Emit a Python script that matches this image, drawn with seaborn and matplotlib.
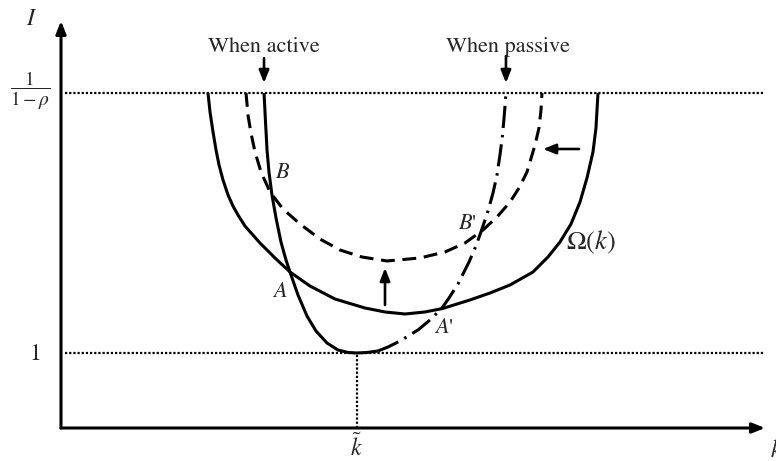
import matplotlib
matplotlib.use("Agg")
import matplotlib.pyplot as plt
import pandas as pd
import seaborn as sns

# ---- curves of the diagram (k on the horizontal axis, I on the vertical) ----
# Omega(k): solid U-shaped locus
omega_k = [1.960, 1.987, 2.027, 2.067, 2.107, 2.160, 2.227, 2.293, 2.360, 2.453,
           2.547, 2.653, 2.853, 3.053, 3.320, 3.653, 4.053, 4.320, 4.587, 4.853,
           5.087, 5.453, 5.720, 5.987, 6.293, 6.493, 6.653, 6.800, 6.920, 7.013,
           7.093, 7.133, 7.160]
omega_i = [4.467, 4.213, 3.947, 3.707, 3.507, 3.307, 3.107, 2.960, 2.840, 2.693,
           2.587, 2.467, 2.267, 2.080, 1.893, 1.720, 1.600, 1.547, 1.520, 1.547,
           1.593, 1.707, 1.800, 1.907, 2.080, 2.280, 2.480, 2.720, 3.013, 3.333,
           3.680, 4.000, 4.467]

# shifted locus (dashed)
shifted_k = [2.467, 2.493, 2.533, 2.587, 2.667, 2.787, 2.960, 3.187, 3.453, 3.720,
             4.013, 4.347, 4.787, 5.120, 5.387, 5.627, 5.813, 5.987, 6.107, 6.213,
             6.320, 6.373, 6.400, 6.413]
shifted_i = [4.467, 4.173, 3.933, 3.680, 3.413, 3.147, 2.920, 2.720, 2.520, 2.373,
             2.280, 2.227, 2.267, 2.347, 2.467, 2.640, 2.813, 3.013, 3.200, 3.413,
             3.773, 4.000, 4.240, 4.467]

# investment schedule when active (solid)
active_k = [2.707, 2.727, 2.747, 2.773, 2.813, 2.867, 2.933, 3.000, 3.053, 3.160,
            3.280, 3.400, 3.547, 3.693, 3.827, 3.940, 4.080, 4.227]
active_i = [4.467, 4.080, 3.707, 3.413, 3.107, 2.800, 2.480, 2.240, 2.080, 1.773,
            1.493, 1.293, 1.133, 1.040, 1.007, 1.000, 1.007, 1.027]

# investment schedule when passive (dash-dot)
passive_k = [4.227, 4.360, 4.520, 4.760, 4.920, 5.080, 5.173, 5.293, 5.440, 5.533,
             5.613, 5.693, 5.760, 5.813, 5.853, 5.887, 5.913, 5.933]
passive_i = [1.027, 1.080, 1.160, 1.307, 1.440, 1.600, 1.733, 1.920, 2.213, 2.427,
             2.653, 2.893, 3.133, 3.373, 3.640, 3.907, 4.200, 4.467]

k_tilde = 3.94
i_floor = 1.0
i_ceiling = 4.467          # level 1/(1-rho)
k_axis_end = 9.387
i_axis_end = 5.427
guide_start = 0.053

# ---- figure ----
sns.set_theme(style="white")
plt.rcParams["font.family"] = ["STIXGeneral", "DejaVu Serif"]
plt.rcParams["mathtext.fontset"] = "stix"
plt.rcParams["lines.scale_dashes"] = False

fig = plt.figure(figsize=(7.76, 4.61), dpi=100)
ax = fig.add_axes([0, 0, 1, 1])
ax.set_xlim(-61 / 75, 715 / 75)
ax.set_ylim(-33 / 75, 428 / 75)
ax.axis("off")

curves = {
    "omega": (omega_k, omega_i, "-"),
    "shifted": (shifted_k, shifted_i, (0, (10, 5.5))),
    "active": (active_k, active_i, "-"),
    "passive": (passive_k, passive_i, (0, (16, 5, 1.8, 5))),
}
for name, (ks, iis, style) in curves.items():
    df = pd.DataFrame({"k": ks, "I": iis})
    sns.lineplot(data=df, x="k", y="I", ax=ax, sort=False, estimator=None,
                 color="black", lw=2.2, linestyle=style,
                 solid_capstyle="butt", dash_capstyle="butt",
                 solid_joinstyle="round")
ax.set_xlabel("")
ax.set_ylabel("")

# dotted guide lines
dot = dict(color="black", lw=1.6, linestyle=(0, (1.6, 1.4)), dash_capstyle="butt")
for level in (i_floor, i_ceiling):
    ax.plot([guide_start, k_axis_end], [level, level], **dot)
ax.plot([k_tilde, k_tilde], [0, i_floor], **dot)

# coordinate axes with arrowheads
axis_arrow = dict(arrowstyle="-|>,head_length=0.75,head_width=0.3", color="black",
                  lw=2.2, shrinkA=0, shrinkB=0, mutation_scale=10)
ax.annotate("", xy=(0, i_axis_end), xytext=(0, 0), arrowprops=axis_arrow)
ax.annotate("", xy=(k_axis_end, 0), xytext=(0, 0), arrowprops=axis_arrow)

# pointer arrows
pointer = dict(arrowstyle="-|>,head_length=0.75,head_width=0.3", color="black",
               lw=1.9, shrinkA=0, shrinkB=0, mutation_scale=10)
ax.annotate("", xy=(2.707, 4.60), xytext=(2.707, 4.93), arrowprops=pointer)
ax.annotate("", xy=(5.933, 4.60), xytext=(5.933, 4.96), arrowprops=pointer)
ax.annotate("", xy=(4.32, 2.133), xytext=(4.32, 1.64), arrowprops=pointer)
ax.annotate("", xy=(6.427, 3.72), xytext=(6.907, 3.72), arrowprops=pointer)

# labels
ax.text(2.707, 5.017, "When active", ha="center", va="baseline", fontsize=16)
ax.text(5.960, 5.017, "When passive", ha="center", va="baseline", fontsize=16)
ax.text(-0.387, 5.373, r"$I$", ha="center", va="baseline", fontsize=17)
ax.text(-0.413, 4.493, r"$\dfrac{1}{1-\rho}$", ha="center", va="center", fontsize=14)
ax.text(-0.347, 0.907, "1", ha="center", va="baseline", fontsize=17)
ax.text(3.933, -0.373, r"$\tilde{k}$", ha="center", va="baseline", fontsize=17)
ax.text(9.453, -0.391, r"$k$", ha="left", va="baseline", fontsize=17)
ax.text(2.953, 3.333, r"$B$", ha="center", va="baseline", fontsize=16)
ax.text(2.920, 1.751, r"$A$", ha="center", va="baseline", fontsize=16)
ax.text(5.420, 2.653, r"$B$'", ha="center", va="baseline", fontsize=16)
ax.text(5.107, 1.267, r"$A$'", ha="center", va="baseline", fontsize=16)
ax.text(7.065, 2.377, r"$\Omega(k)$", ha="center", va="baseline", fontsize=19)

fig.savefig("out.png", dpi=100, facecolor="white")
